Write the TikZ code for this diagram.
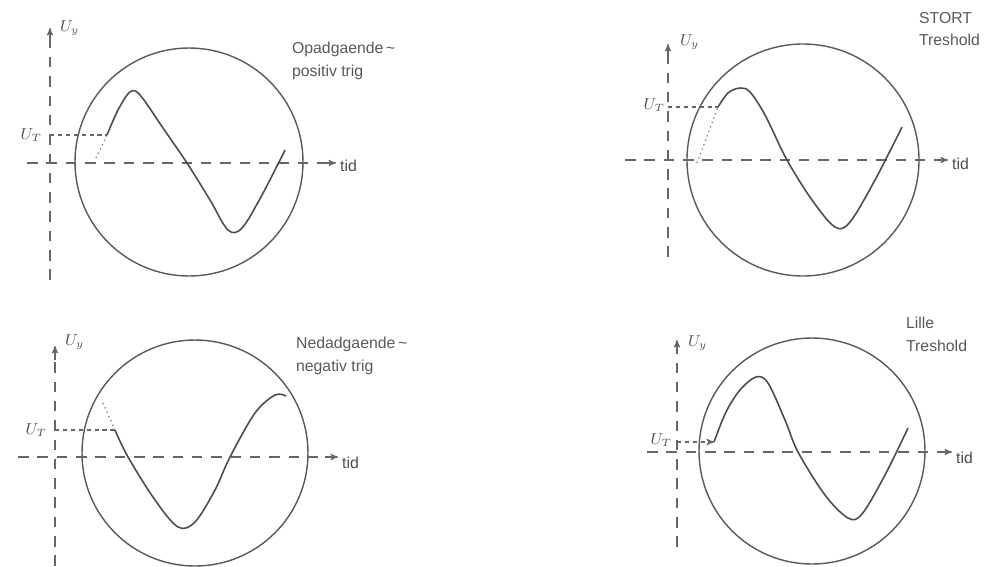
\documentclass[tikz,border=0pt]{standalone}
\usepackage{fontspec}
\setmainfont{Liberation Sans}
\usetikzlibrary{arrows,positioning}

\begin{document}
\begin{tikzpicture}[x=0.02cm, y=-0.02cm]
        \tikzstyle{screen} = [draw=black!65, line width=0.8pt]
        \tikzstyle{axis} = [draw=black!60, line width=0.6pt, dash pattern=on 6pt off 5pt]
        \tikzstyle{axisarrow} = [->, >=stealth', draw=black!60, line width=0.6pt]
        \tikzstyle{level} = [draw=black!60, line width=0.6pt, dash pattern=on 2.5pt off 2pt]
        \tikzstyle{dotline} = [draw=black!55, line width=0.7pt, dotted]
        \tikzstyle{wave} = [draw=black!70, line width=0.9pt, smooth, tension=0.55]
        \tikzstyle{lbl} = [text=black!70, font=\small, inner sep=1pt]
        \tikzstyle{note} = [text=black!65, font=\small, align=left, inner sep=1pt]
        \useasboundingbox (0,0) rectangle (998,566);

        % opadgaende, positiv trig
        \coordinate (o1) at (50,163);
        \draw[screen] (189,162) circle (114);
        \draw[axis] (50,280) -- (50,40);
        \draw[axisarrow] (50,40) -- (50,28);
        \draw[axis] (27,163) -- (322,163);
        \draw[axisarrow] (322,163) -- (336,163);
        \node (uy1) [lbl, anchor=west] at (58,28) {$U_y$};
        \node (tid1) [lbl, anchor=west] at (338,166) {tid};
        \node (ut1) [lbl, anchor=east] at (44,135) {$U_T$};
        \coordinate (s1) at (107,135);
        \draw[level] (50,135) -- (s1);
        \draw[dotline] (96,158) -- (s1);
        \draw[wave] plot coordinates {(s1) (118,110) (130,92) (140,95) (163,128) (187,163) (210,200) (228,230) (242,228) (262,195) (285,150)};
        \node (txt1) [note, anchor=north west] at (290,40) {Opadgaende\,\textasciitilde\\[2pt]positiv trig};

        % stort treshold
        \coordinate (o2) at (668,160);
        \draw[screen] (803,160) circle (116);
        \draw[axis] (668,257) -- (668,58);
        \draw[axisarrow] (668,58) -- (668,44);
        \draw[axis] (625,160) -- (935,160);
        \draw[axisarrow] (935,160) -- (948,160);
        \node (uy2) [lbl, anchor=west] at (678,42) {$U_y$};
        \node (tid2) [lbl, anchor=west] at (950,164) {tid};
        \node (ut2) [lbl, anchor=east] at (667,105) {$U_T$};
        \coordinate (s2) at (718,107);
        \draw[level] (668,107) -- (s2);
        \draw[dotline] (697,163) -- (s2);
        \draw[wave] plot coordinates {(s2) (728,93) (740,88) (750,92) (765,115) (787,160) (812,200) (835,227) (850,222) (875,180) (902,127)};
        \node (txt2) [note, anchor=north west] at (917,10) {STORT\\[2pt]Treshold};

        % nedadgaende, negativ trig
        \coordinate (o3) at (55,457);
        \draw[screen] (195,453) circle (113);
        \draw[axis] (55,566) -- (55,360);
        \draw[axisarrow] (55,360) -- (55,346);
        \draw[axis] (18,457) -- (325,457);
        \draw[axisarrow] (325,457) -- (338,457);
        \node (uy3) [lbl, anchor=west] at (63,342) {$U_y$};
        \node (tid3) [lbl, anchor=west] at (340,463) {tid};
        \node (ut3) [lbl, anchor=east] at (49,430) {$U_T$};
        \coordinate (s3) at (115,430);
        \draw[level] (55,430) -- (s3);
        \draw[dotline] (103,403) -- (s3);
        \draw[wave] plot coordinates {(s3) (128,457) (155,500) (178,527) (195,522) (215,490) (230,457) (255,413) (275,395) (286,396)};
        \node (txt3) [note, anchor=north west] at (294,335) {Nedadgaende\,\textasciitilde\\[2pt]negativ trig};

        % lille treshold
        \coordinate (o4) at (677,452);
        \draw[screen] (812,451) circle (113);
        \draw[axis] (677,547) -- (677,353);
        \draw[axisarrow] (677,353) -- (677,340);
        \draw[axis] (647,452) -- (938,452);
        \draw[axisarrow] (938,452) -- (952,452);
        \node (uy4) [lbl, anchor=west] at (686,343) {$U_y$};
        \node (tid4) [lbl, anchor=west] at (954,458) {tid};
        \node (ut4) [lbl, anchor=east] at (674,440) {$U_T$};
        \coordinate (s4) at (714,442);
        \draw[level, ->, >=stealth'] (677,442) -- (s4);
        \draw[wave] plot coordinates {(s4) (726,412) (740,390) (756,377) (768,383) (785,420) (798,452) (825,495) (848,518) (862,514) (885,475) (908,428)};
        \node (txt4) [note, anchor=north west] at (904,315) {Lille\\[2pt]Treshold};
\end{tikzpicture}
\end{document}
